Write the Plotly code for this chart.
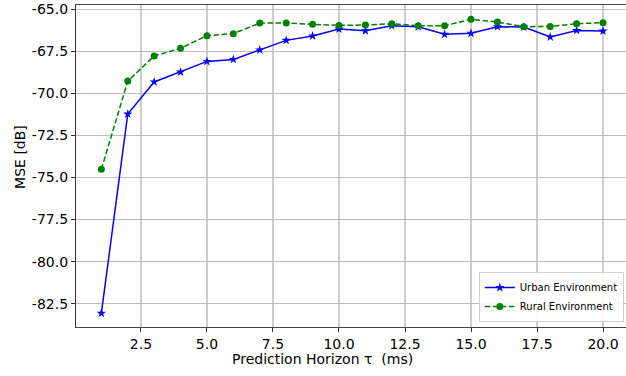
import plotly.graph_objects as go

horizon = list(range(1, 21))
urban_mse = [-83.07, -71.24, -69.33, -68.74, -68.11, -67.99, -67.43, -66.86, -66.60, -66.19,
             -66.29, -65.99, -66.05, -66.50, -66.44, -66.05, -66.07, -66.66, -66.27, -66.31]
rural_mse = [-74.52, -69.28, -67.79, -67.33, -66.58, -66.46, -65.83, -65.83, -65.91, -65.97,
             -65.95, -65.87, -65.99, -65.99, -65.61, -65.77, -66.05, -66.03, -65.87, -65.81]
x_ticks = [2.5, 5.0, 7.5, 10.0, 12.5, 15.0, 17.5, 20.0]
y_ticks = [-65.0, -67.5, -70.0, -72.5, -75.0, -77.5, -80.0, -82.5]
x_title = "Prediction Horizon τ  (ms)"
y_title = "MSE [dB]"

font = "DejaVu Sans"
fig = go.Figure()
fig.add_trace(go.Scatter(
    x=horizon, y=urban_mse, mode="lines+markers", name="Urban Environment",
    line=dict(color="#0000ff", width=1.5),
    marker=dict(symbol="star", size=7, color="#0000ff"),
))
fig.add_trace(go.Scatter(
    x=horizon, y=rural_mse, mode="lines+markers", name="Rural Environment",
    line=dict(color="#008000", width=1.5, dash="5.5px,2.5px"),
    marker=dict(symbol="circle", size=7, color="#008000"),
))

fig.update_layout(
    width=626, height=376,
    margin=dict(l=76, r=0, t=5, b=49, autoexpand=False),
    paper_bgcolor="white", plot_bgcolor="white",
    font=dict(family=font, size=14, color="black"),
    showlegend=True,
    legend=dict(
        x=0.996, y=0.0155, xanchor="right", yanchor="bottom",
        bgcolor="rgba(255,255,255,0.9)", bordercolor="#d0d0d0", borderwidth=1,
        font=dict(family=font, size=10, color="black"),
        tracegroupgap=0, itemwidth=30,
    ),
    xaxis=dict(
        range=[0.04, 20.87], tickvals=x_ticks, ticktext=[f"{v:.1f}" for v in x_ticks],
        showgrid=True, gridcolor="#cccccc", gridwidth=1.5, automargin=False,
        showline=True, linecolor="#444444", linewidth=1.3, mirror=True,
        ticks="outside", ticklen=4, tickcolor="#333333", zeroline=False,
    ),
    yaxis=dict(
        range=[-83.88, -64.76], tickvals=y_ticks, ticktext=[f"{v:.1f}" for v in y_ticks],
        showgrid=True, gridcolor="#bdbdbd", gridwidth=1.2, automargin=False,
        showline=True, linecolor="#333333", linewidth=1.2,
        ticks="outside", ticklen=4, tickcolor="#333333", zeroline=False,
    ),
    annotations=[
        dict(text=x_title, xref="paper", yref="paper", x=0.449, y=-0.0994,
             xanchor="center", yanchor="middle", showarrow=False,
             font=dict(family=font, size=14, color="black")),
        dict(text=y_title, xref="paper", yref="paper", x=-0.102, y=0.528,
             xanchor="center", yanchor="middle", textangle=-90, showarrow=False,
             font=dict(family=font, size=14, color="black")),
    ],
)

fig.write_html("out.html", config={"displayModeBar": False},
               post_script="document.body.style.margin='0';document.body.style.overflow='hidden';")
